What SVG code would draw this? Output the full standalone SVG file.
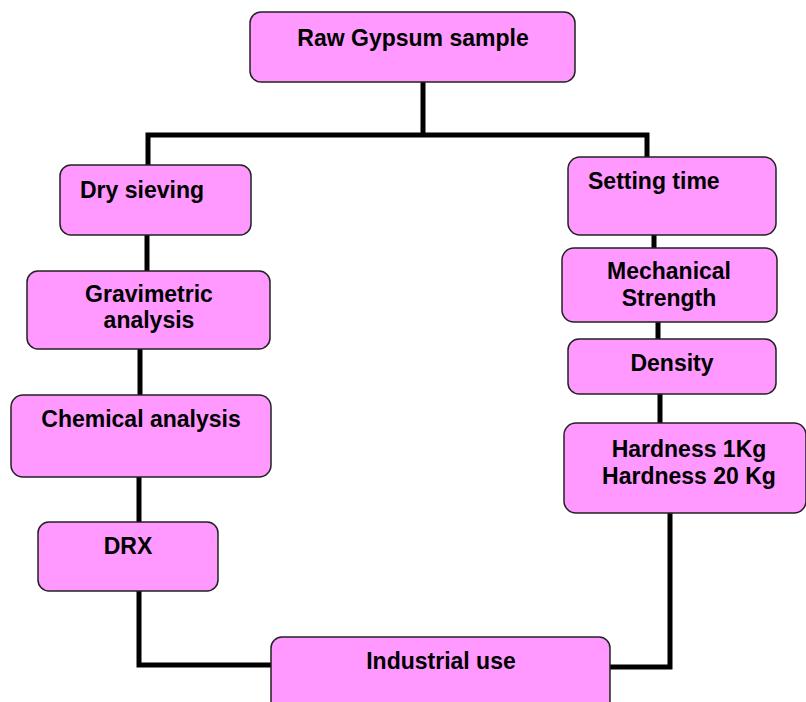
<svg xmlns="http://www.w3.org/2000/svg" width="806" height="702" viewBox="0 0 806 702">
<style>
.box{fill:#FF99FF;stroke:#222;stroke-width:1.5}
.t{font-family:"Liberation Sans",Arial,sans-serif;font-weight:bold;font-size:23px;fill:#000}
.c{text-anchor:middle}
.ln{fill:none;stroke:#000;stroke-width:5}
</style>
<rect width="806" height="702" fill="#fff"/>
<g id="connectors">
<polyline class="ln" points="423,82 423,135"/>
<polyline class="ln" points="148,165 148,135 647,135 647,157"/>
<polyline class="ln" points="147,235 147,271"/>
<polyline class="ln" points="140,349 140,395"/>
<polyline class="ln" points="139,477 139,522"/>
<polyline class="ln" points="139,591 139,665 272,665"/>
<polyline class="ln" points="654,235 654,248"/>
<polyline class="ln" points="658,322 658,339"/>
<polyline class="ln" points="660,394 660,423"/>
<polyline class="ln" points="670,513 670,667 610,667"/>
</g>
<g id="raw"><rect class="box" x="250" y="12" width="325" height="70" rx="11"/><text class="t c" x="413" y="46">Raw Gypsum sample</text></g>
<g id="dry"><rect class="box" x="60" y="165" width="191" height="70" rx="11"/><text class="t" x="80" y="198">Dry sieving</text></g>
<g id="grav"><rect class="box" x="27" y="271" width="243" height="78" rx="11"/><text class="t c" x="149" y="302">Gravimetric</text><text class="t c" x="149" y="328">analysis</text></g>
<g id="chem"><rect class="box" x="11" y="395" width="260" height="82" rx="12"/><text class="t c" x="141" y="427">Chemical analysis</text></g>
<g id="drx"><rect class="box" x="38" y="522" width="180" height="69" rx="11"/><text class="t c" x="128" y="554">DRX</text></g>
<g id="industrial"><rect class="box" x="271" y="637" width="339" height="75" rx="11"/><text class="t c" x="441" y="669">Industrial use</text></g>
<g id="setting"><rect class="box" x="568" y="157" width="208" height="78" rx="12"/><text class="t" x="588" y="189">Setting time</text></g>
<g id="mech"><rect class="box" x="562" y="248" width="215" height="74" rx="12"/><text class="t c" x="669" y="279">Mechanical</text><text class="t c" x="669" y="306">Strength</text></g>
<g id="density"><rect class="box" x="568" y="339" width="208" height="55" rx="11"/><text class="t c" x="672" y="371">Density</text></g>
<g id="hardness"><rect class="box" x="564" y="423" width="242" height="90" rx="12"/><text class="t c" x="689" y="457">Hardness 1Kg</text><text class="t c" x="689" y="484">Hardness 20 Kg</text></g>
</svg>
